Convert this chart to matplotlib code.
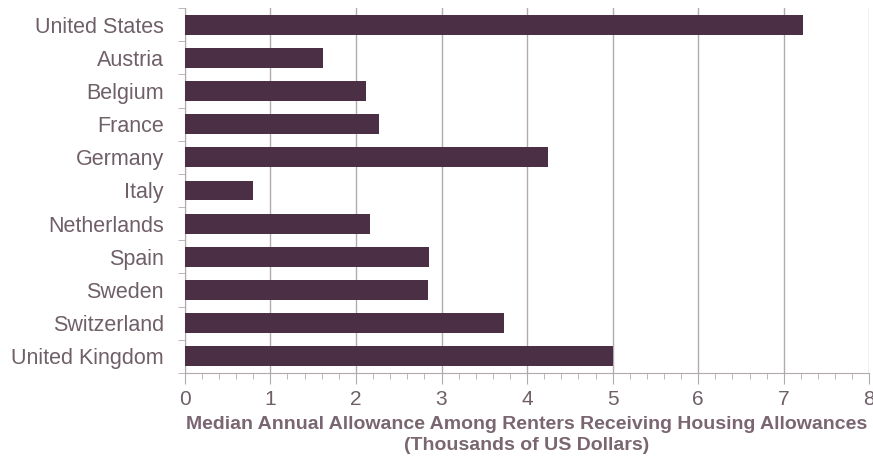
import numpy as np
import matplotlib.pyplot as plt
from matplotlib.ticker import MultipleLocator, FixedLocator

countries = ['United States', 'Austria', 'Belgium', 'France', 'Germany', 'Italy',
             'Netherlands', 'Spain', 'Sweden', 'Switzerland', 'United Kingdom']
allowance = [7.22, 1.62, 2.12, 2.27, 4.24, 0.80, 2.17, 2.85, 2.84, 3.73, 5.00]

bar_color = '#4a2f45'
text_color = '#6f5f68'
grid_color = '#b3aab0'

fig = plt.figure(figsize=(8.73, 4.59), dpi=100)
ax = fig.add_axes([0.2117, 0.1874, 0.7841, 0.7952])

y = np.arange(len(countries))
ax.barh(y, allowance, height=0.6, color=bar_color, zorder=3)
ax.set_ylim(len(countries) - 0.5, -0.5)
ax.set_xlim(0, 8)

ax.set_yticks(y)
ax.set_yticklabels(countries, fontsize=15.5, color=text_color, family='Liberation Sans')
ax.yaxis.set_minor_locator(FixedLocator(np.arange(-0.5, len(countries), 1.0)))
ax.tick_params(axis='y', which='major', length=0, pad=15)
ax.tick_params(axis='y', which='minor', length=5, color=grid_color, direction='out')

ax.xaxis.set_major_locator(MultipleLocator(1))
ax.xaxis.set_minor_locator(MultipleLocator(0.2))
ax.tick_params(axis='x', which='major', length=8, color=grid_color, labelsize=15,
               labelcolor=text_color, pad=4)
ax.tick_params(axis='x', which='minor', length=4, color=grid_color)
for lab in ax.get_xticklabels():
    lab.set_family('Liberation Sans')

ax.grid(axis='x', which='major', color=grid_color, linewidth=1, zorder=0)

for side in ['top', 'right']:
    ax.spines[side].set_visible(False)
ax.spines['left'].set_color(grid_color)
ax.spines['bottom'].set_color(grid_color)

ax.set_xlabel('Median Annual Allowance Among Renters Receiving Housing Allowances\n(Thousands of US Dollars)',
              fontsize=14, fontweight='bold', color='#7a6670',
              family='Liberation Sans', labelpad=5, linespacing=1.35)

fig.savefig('out.png', dpi=100)
